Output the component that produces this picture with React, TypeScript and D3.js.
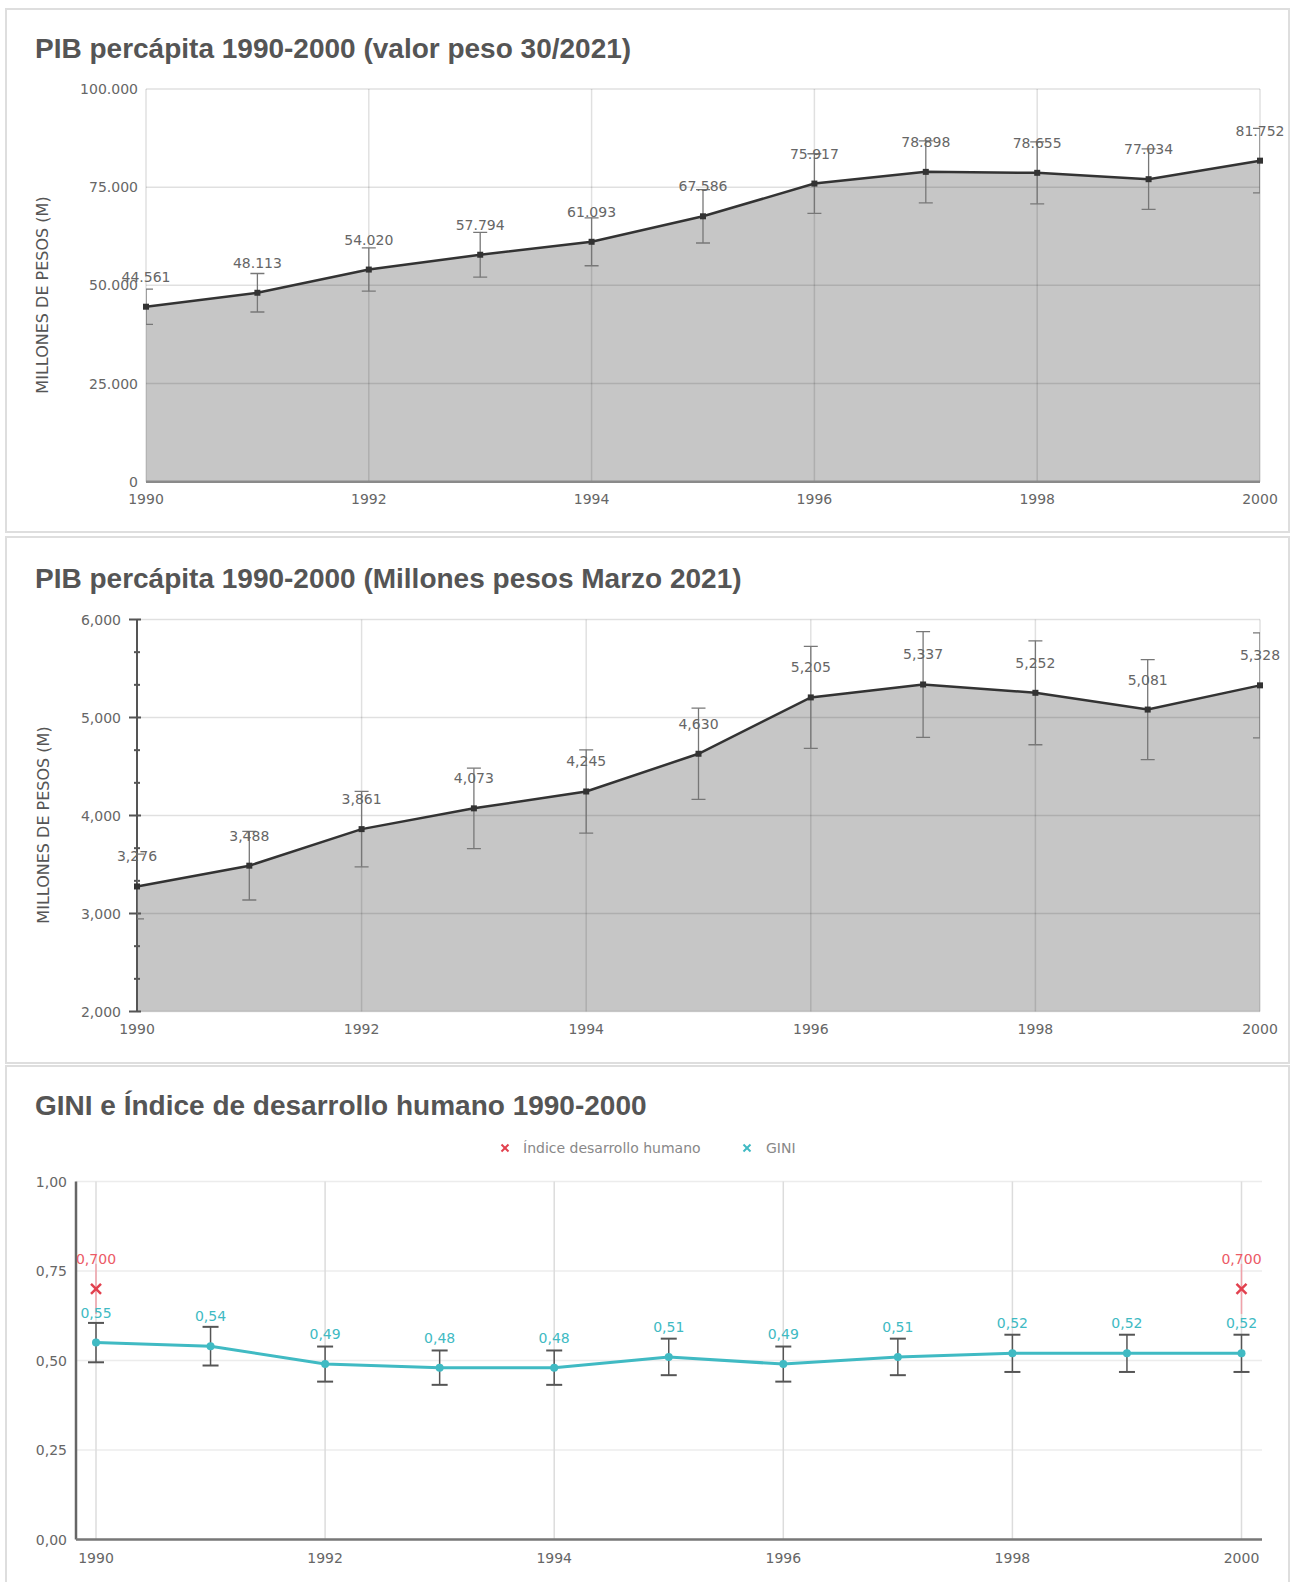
import React from "react";
import * as d3 from "d3";

const years = [1990, 1991, 1992, 1993, 1994, 1995, 1996, 1997, 1998, 1999, 2000];
const pibValor = [44561, 48113, 54020, 57794, 61093, 67586, 75917, 78898, 78655, 77034, 81752];
const pibValorErr = [4500, 4900, 5500, 5700, 6100, 6800, 7600, 7900, 7900, 7700, 8200];
const pibMarzo = [3276, 3488, 3861, 4073, 4245, 4630, 5205, 5337, 5252, 5081, 5328];
const pibMarzoErr = [330, 350, 385, 410, 425, 465, 520, 540, 530, 510, 535];
const gini = [0.55, 0.54, 0.49, 0.48, 0.48, 0.51, 0.49, 0.51, 0.52, 0.52, 0.52];
const giniErr = [0.055, 0.054, 0.049, 0.048, 0.048, 0.051, 0.049, 0.051, 0.052, 0.052, 0.052];
const idhYears = [1990, 2000];
const idh = [0.7, 0.7];
const idhErr = [0.07, 0.07];
const xTicks = [1990, 1992, 1994, 1996, 1998, 2000];
const yTicks1 = [0, 25000, 50000, 75000, 100000];
const yTicks2 = [2000, 3000, 4000, 5000, 6000];
const yTicks3 = [0, 0.25, 0.5, 0.75, 1];

const title1 = "PIB percápita 1990-2000 (valor peso 30/2021)";
const title2 = "PIB percápita 1990-2000 (Millones pesos Marzo 2021)";
const title3 = "GINI e Índice de desarrollo humano 1990-2000";
const yTitle = "MILLONES DE PESOS (M)";

const TFONT = "'Liberation Sans', Arial, sans-serif";
const LFONT = "'DejaVu Sans', sans-serif";
const TEAL = "#40bac3";
const RED = "#e2404e";

const fmtDot = (v: number) => d3.format(",")(v).replace(/,/g, ".");
const fmtComma = (v: number) => d3.format(",")(v);
const fmtDec2 = (v: number) => d3.format(".2f")(v).replace(".", ",");
const fmtDec3 = (v: number) => d3.format(".3f")(v).replace(".", ",");

function AreaChart(props: {
  id: string;
  values: number[];
  errs: number[];
  x0: number;
  x1: number;
  yDomain: [number, number];
  yTop: number;
  yBottom: number;
  yTicks: number[];
  fmtTick: (v: number) => string;
  fmtVal: (v: number) => string;
  tickLabelX: number;
  xLabelY: number;
  yTitleX: number;
  yTitleY: number;
  withAxis: boolean;
}) {
  const p = props;
  const x = d3.scaleLinear().domain([1990, 2000]).range([p.x0, p.x1]);
  const y = d3.scaleLinear().domain(p.yDomain).range([p.yBottom, p.yTop]);
  const area = d3
    .area<number>()
    .x((_, i) => x(years[i]))
    .y0(y(p.yDomain[0]))
    .y1((d) => y(d));
  const line = d3
    .line<number>()
    .x((_, i) => x(years[i]))
    .y((d) => y(d));
  const grid = "rgba(0,0,0,0.12)";
  const minor: number[] = [];
  for (let i = 0; i < p.yTicks.length - 1; i++) {
    const a = p.yTicks[i], b = p.yTicks[i + 1];
    minor.push(a + (b - a) / 3, a + (2 * (b - a)) / 3);
  }
  return (
    <g>
      <defs>
        <clipPath id={p.id}>
          <rect x={p.x0} y={p.yTop - 40} width={p.x1 - p.x0} height={p.yBottom - p.yTop + 40} />
        </clipPath>
      </defs>
      <path d={area(p.values) || ""} fill="#c6c6c6" />
      {p.yTicks.map((t) => (
        <line key={"h" + t} x1={p.x0} x2={p.x1} y1={y(t)} y2={y(t)} stroke={grid} strokeWidth={1.5} />
      ))}
      {xTicks.map((t) => (
        <line key={"v" + t} x1={x(t)} x2={x(t)} y1={p.yTop} y2={p.yBottom} stroke={grid} strokeWidth={1.5} />
      ))}
      {!p.withAxis && (
        <line x1={p.x0} x2={p.x1} y1={p.yBottom} y2={p.yBottom} stroke="#8a8a8a" strokeWidth={2.5} />
      )}
      {p.withAxis && (
        <g>
          <line x1={p.x0} x2={p.x0} y1={p.yTop} y2={p.yBottom} stroke="#555" strokeWidth={2} />
          {p.yTicks.map((t) => (
            <line key={"mt" + t} x1={p.x0 - 8} x2={p.x0 + 4} y1={y(t)} y2={y(t)} stroke="#555" strokeWidth={2} />
          ))}
          {minor.map((t, i) => (
            <line key={"mn" + i} x1={p.x0 - 3} x2={p.x0 + 3} y1={y(t)} y2={y(t)} stroke="#555" strokeWidth={2} />
          ))}
        </g>
      )}
      <g clipPath={`url(#${p.id})`}>
        {p.values.map((v, i) => {
          const cx = x(years[i]);
          const e = p.errs[i];
          return (
            <g key={"e" + i} stroke="#777" strokeWidth={1.3}>
              <line x1={cx} x2={cx} y1={y(v + e)} y2={y(v - e)} />
              <line x1={cx - 7} x2={cx + 7} y1={y(v + e)} y2={y(v + e)} />
              <line x1={cx - 7} x2={cx + 7} y1={y(v - e)} y2={y(v - e)} />
            </g>
          );
        })}
      </g>
      <path d={line(p.values) || ""} fill="none" stroke="#333" strokeWidth={2.5} />
      {p.values.map((v, i) => (
        <rect key={"m" + i} x={x(years[i]) - 3} y={y(v) - 3} width={6} height={6} fill="#333" />
      ))}
      {p.values.map((v, i) => (
        <text
          key={"l" + i}
          x={x(years[i])}
          y={y(v) - 25}
          textAnchor="middle"
          fontFamily={LFONT}
          fontSize={14}
          fill="#666"
        >
          {p.fmtVal(v)}
        </text>
      ))}
      {p.yTicks.map((t) => (
        <text
          key={"yt" + t}
          x={p.tickLabelX}
          y={y(t) + 5}
          textAnchor="end"
          fontFamily={LFONT}
          fontSize={14}
          fill="#666"
        >
          {p.fmtTick(t)}
        </text>
      ))}
      {xTicks.map((t) => (
        <text
          key={"xt" + t}
          x={x(t)}
          y={p.xLabelY + 5}
          textAnchor="middle"
          fontFamily={LFONT}
          fontSize={14}
          fill="#666"
        >
          {t}
        </text>
      ))}
      <text
        transform={`translate(${p.yTitleX},${p.yTitleY}) rotate(-90)`}
        textAnchor="middle"
        dominantBaseline="central"
        fontFamily={LFONT}
        fontSize={16}
        fill="#555"
      >
        {yTitle}
      </text>
    </g>
  );
}

function Cross(props: { x: number; y: number; s: number; color: string; w: number }) {
  const { x, y, s, color, w } = props;
  return (
    <g stroke={color} strokeWidth={w}>
      <line x1={x - s} x2={x + s} y1={y - s} y2={y + s} />
      <line x1={x - s} x2={x + s} y1={y + s} y2={y - s} />
    </g>
  );
}

function GiniChart() {
  const left = 76, right = 1262;
  const x = d3.scaleLinear().domain([1990, 2000]).range([96, 1241.5]);
  const y = d3.scaleLinear().domain([0, 1]).range([1539.5, 1181.5]);
  const line = d3
    .line<number>()
    .x((_, i) => x(years[i]))
    .y((d) => y(d));
  return (
    <g>
      {yTicks3.map((t) => (
        <line key={"h" + t} x1={left} x2={right} y1={y(t)} y2={y(t)} stroke="#ececec" strokeWidth={1.5} />
      ))}
      {xTicks.map((t) => (
        <line key={"v" + t} x1={x(t)} x2={x(t)} y1={y(1)} y2={y(0)} stroke="#dcdcdc" strokeWidth={1.5} />
      ))}
      <line x1={left} x2={left} y1={y(1)} y2={y(0)} stroke="#666" strokeWidth={2.5} />
      <line x1={left} x2={right} y1={y(0)} y2={y(0)} stroke="#777" strokeWidth={2.5} />
      {idh.map((v, i) => {
        const cx = x(idhYears[i]);
        const e = idhErr[i];
        return (
          <g key={"ie" + i} stroke="#f0a2aa" strokeWidth={1.5}>
            <line x1={cx} x2={cx} y1={y(v + e)} y2={y(v - e)} />
          </g>
        );
      })}
      <path d={line(gini) || ""} fill="none" stroke={TEAL} strokeWidth={3} />
      {gini.map((v, i) => {
        const cx = x(years[i]);
        const e = giniErr[i];
        return (
          <g key={"ge" + i} stroke="#555" strokeWidth={2}>
            <line x1={cx} x2={cx} y1={y(v + e)} y2={y(v - e)} strokeWidth={1.5} />
            <line x1={cx - 8} x2={cx + 8} y1={y(v + e)} y2={y(v + e)} />
            <line x1={cx - 8} x2={cx + 8} y1={y(v - e)} y2={y(v - e)} />
          </g>
        );
      })}
      {gini.map((v, i) => (
        <circle key={"gm" + i} cx={x(years[i])} cy={y(v)} r={4} fill={TEAL} />
      ))}
      {gini.map((v, i) => (
        <text
          key={"gl" + i}
          x={x(years[i])}
          y={y(v) - 25}
          textAnchor="middle"
          fontFamily={LFONT}
          fontSize={14}
          fill={TEAL}
        >
          {fmtDec2(v)}
        </text>
      ))}
      {idh.map((v, i) => (
        <Cross key={"im" + i} x={x(idhYears[i])} y={y(v)} s={5} color={RED} w={2.5} />
      ))}
      {idh.map((v, i) => (
        <text
          key={"il" + i}
          x={x(idhYears[i])}
          y={y(v) - 25}
          textAnchor="middle"
          fontFamily={LFONT}
          fontSize={14}
          fill="#ec5a66"
        >
          {fmtDec3(v)}
        </text>
      ))}
      {yTicks3.map((t) => (
        <text key={"yt" + t} x={67} y={y(t) + 5} textAnchor="end" fontFamily={LFONT} fontSize={14} fill="#666">
          {fmtDec2(t)}
        </text>
      ))}
      {xTicks.map((t) => (
        <text key={"xt" + t} x={x(t)} y={1563} textAnchor="middle" fontFamily={LFONT} fontSize={14} fill="#666">
          {t}
        </text>
      ))}
      <Cross x={505} y={1148} s={3.5} color={RED} w={2} />
      <text x={523} y={1153} fontFamily={LFONT} fontSize={14} fill="#888">
        Índice desarrollo humano
      </text>
      <Cross x={747} y={1148} s={3.5} color={TEAL} w={2} />
      <text x={766} y={1153} fontFamily={LFONT} fontSize={14} fill="#888">
        GINI
      </text>
    </g>
  );
}

export default function App() {
  return (
    <div style={{ position: "absolute", left: 0, top: 0, width: 1301, height: 1582, background: "#fff" }}>
      <svg width={1301} height={1582} style={{ display: "block" }}>
        <rect x={0} y={0} width={1301} height={1582} fill="#fff" />
        <rect x={6} y={9} width={1283} height={523} fill="#fff" stroke="#dedede" strokeWidth={2} />
        <rect x={6} y={537} width={1283} height={526} fill="#fff" stroke="#dedede" strokeWidth={2} />
        <rect x={6} y={1066} width={1283} height={530} fill="#fff" stroke="#dedede" strokeWidth={2} />
        <text x={35} y={58} fontFamily={TFONT} fontWeight="bold" fontSize={28} fill="#555">
          {title1}
        </text>
        <text x={35} y={588} fontFamily={TFONT} fontWeight="bold" fontSize={28} fill="#555">
          {title2}
        </text>
        <text x={35} y={1115} fontFamily={TFONT} fontWeight="bold" fontSize={28} fill="#555">
          {title3}
        </text>
        <AreaChart
          id="clip1"
          values={pibValor}
          errs={pibValorErr}
          x0={146}
          x1={1260}
          yDomain={[0, 100000]}
          yTop={89}
          yBottom={481.7}
          yTicks={yTicks1}
          fmtTick={fmtDot}
          fmtVal={fmtDot}
          tickLabelX={138}
          xLabelY={499}
          yTitleX={42}
          yTitleY={295}
          withAxis={false}
        />
        <AreaChart
          id="clip2"
          values={pibMarzo}
          errs={pibMarzoErr}
          x0={137}
          x1={1260}
          yDomain={[2000, 6000]}
          yTop={619.5}
          yBottom={1011.5}
          yTicks={yTicks2}
          fmtTick={fmtComma}
          fmtVal={fmtComma}
          tickLabelX={121}
          xLabelY={1029}
          yTitleX={43}
          yTitleY={825}
          withAxis={true}
        />
        <GiniChart />
      </svg>
    </div>
  );
}
